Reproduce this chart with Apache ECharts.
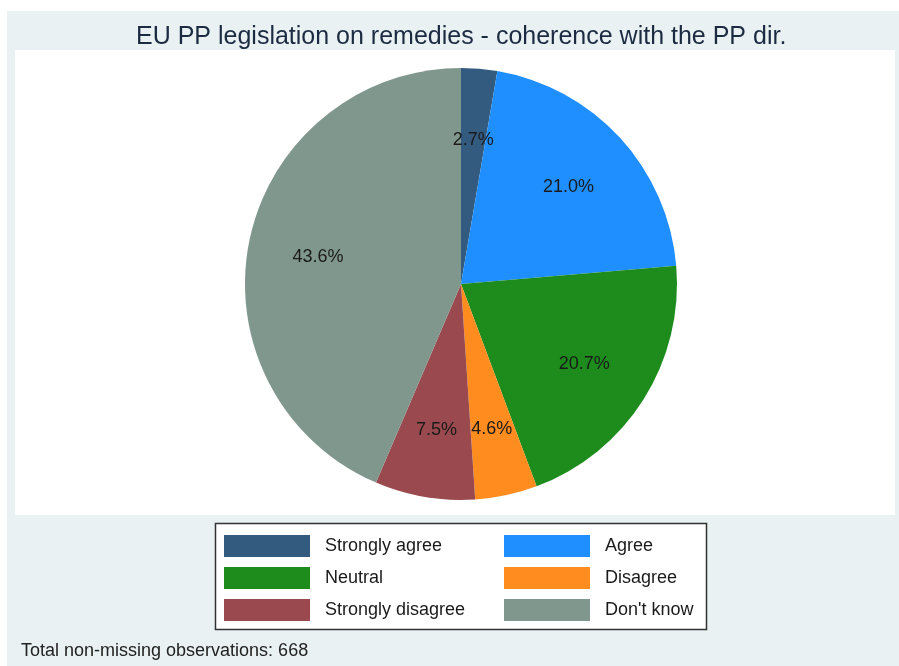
<!DOCTYPE html>
<html>
<head>
<meta charset="utf-8">
<script src="https://cdn.jsdelivr.net/npm/echarts@6/dist/echarts.min.js"></script>
<style>
html,body{margin:0;padding:0;background:#ffffff;}
#c{width:899px;height:666px;}
</style>
</head>
<body>
<div id="c"></div>
<script>
// Data
const categories = ['Strongly agree', 'Agree', 'Neutral', 'Disagree', 'Strongly disagree', "Don't know"];
const counts = [18, 140, 138, 31, 50, 291];
const colors = ['#335b80', '#1f8fff', '#1d8c1d', '#ff8c1f', '#9a4a4f', '#80978d'];
const titleText = 'EU PP legislation on remedies - coherence with the PP dir.';
const noteText = 'Total non-missing observations: 668';

const total = counts.reduce((a, b) => a + b, 0);
const pieData = categories.map((c, i) => ({ name: c, value: counts[i], itemStyle: { color: colors[i] } }));
const labelData = categories.map((c, i) => ({ name: c, value: counts[i] }));
const FONT = '"Liberation Sans", Arial, sans-serif';

const legendBase = {
  orient: 'vertical', top: 535, padding: 0,
  itemWidth: 86, itemHeight: 22, itemGap: 10, itemTextGap: 15, icon: 'rect',
  selectedMode: false,
  textStyle: { fontFamily: FONT, fontSize: 18, color: '#1a1a1a', padding: [0, 0, 0, 10] }
};

const chart = echarts.init(document.getElementById('c'), null, { renderer: 'canvas' });
chart.setOption({
  animation: false,
  backgroundColor: '#ffffff',
  graphic: [
    { type: 'rect', z: -10, shape: { x: 7, y: 11, width: 892, height: 655 }, style: { fill: '#e9f1f3' }, silent: true },
    { type: 'rect', z: -9, shape: { x: 15, y: 50, width: 880, height: 465 }, style: { fill: '#ffffff' }, silent: true },
    { type: 'rect', z: -8, shape: { x: 215.5, y: 523.5, width: 491, height: 106 }, style: { fill: '#ffffff', stroke: '#333333', lineWidth: 1.5 }, silent: true },
    { type: 'text', z: 10, left: 21, top: 642, style: { text: noteText, font: '18px ' + FONT, fill: '#222222' }, silent: true }
  ],
  title: {
    text: titleText,
    left: 131,
    top: 20,
    textStyle: { fontFamily: FONT, fontSize: 25, fontWeight: 'normal', color: '#1c2b42' }
  },
  legend: [
    Object.assign({}, legendBase, { data: [categories[0], categories[2], categories[4]], left: 224 }),
    Object.assign({}, legendBase, { data: [categories[1], categories[3], categories[5]], left: 504 })
  ],
  series: [
    {
      type: 'pie',
      name: 'main',
      center: [461, 284],
      radius: [0, 216],
      startAngle: 90,
      clockwise: true,
      avoidLabelOverlap: false,
      silent: true,
      label: { show: false },
      labelLine: { show: false },
      itemStyle: { borderWidth: 0 },
      emphasis: { disabled: true },
      data: pieData
    },
    {
      type: 'pie',
      name: 'labels',
      center: [461, 286],
      radius: [70, 216],
      startAngle: 90,
      clockwise: true,
      avoidLabelOverlap: false,
      silent: true,
      itemStyle: { color: 'rgba(0,0,0,0)', borderWidth: 0 },
      emphasis: { disabled: true },
      label: {
        show: true,
        position: 'inside',
        fontFamily: FONT,
        fontSize: 18,
        color: '#1a1a1a',
        formatter: p => (p.value / total * 100).toFixed(1) + '%'
      },
      labelLine: { show: false },
      data: labelData
    }
  ]
});
</script>
</body>
</html>
